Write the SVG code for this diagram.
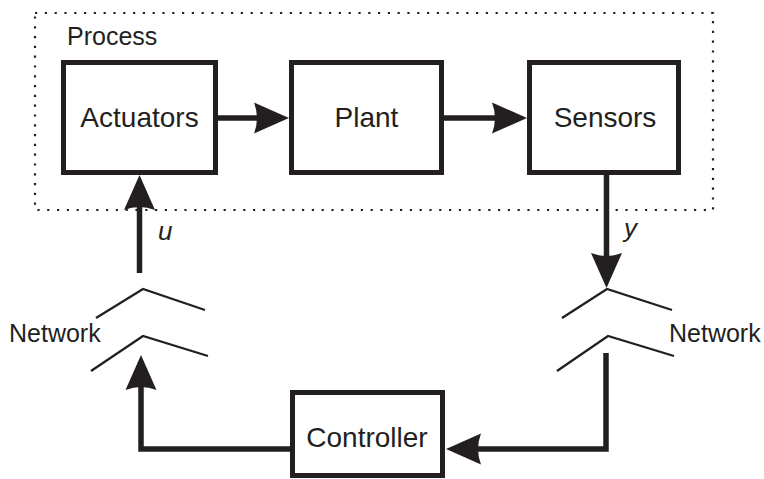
<svg xmlns="http://www.w3.org/2000/svg" width="764" height="479" viewBox="0 0 764 479">
<style>
.box{fill:#fff;stroke:#231f20;stroke-width:5}
.lbl{font-family:"Liberation Sans",Arial,Helvetica,sans-serif;font-size:28px;fill:#231f20;text-anchor:middle}
.sm{font-family:"Liberation Sans",Arial,Helvetica,sans-serif;font-size:25px;fill:#231f20}
.var{font-family:"Liberation Sans",Arial,Helvetica,sans-serif;font-size:26px;font-style:italic;fill:#231f20}
.conn{fill:none;stroke:#231f20;stroke-width:5.5;stroke-linejoin:miter;stroke-linecap:butt}
.net{fill:none;stroke:#231f20;stroke-width:2.3;stroke-linejoin:miter}
.dot{fill:none;stroke:#231f20;stroke-width:2.2;stroke-dasharray:2.2 7.6}
</style>
<defs>
<marker id="ah" markerUnits="userSpaceOnUse" markerWidth="40" markerHeight="40" refX="0" refY="0" orient="auto" overflow="visible">
<path d="M30,0 L-5,-15.5 Q1,0 -5,15.5 Z" fill="#231f20"/>
</marker>
</defs>
<g id="process">
<rect class="dot" x="35" y="13" width="678" height="197"/>
<text class="sm" x="67" y="45">Process</text>
</g>
<g id="actuators">
<rect class="box" x="63.5" y="62.5" width="152" height="110"/>
<text class="lbl" x="139.5" y="127">Actuators</text>
</g>
<g id="plant">
<rect class="box" x="291.5" y="62.5" width="150" height="110"/>
<text class="lbl" x="366.5" y="127">Plant</text>
</g>
<g id="sensors">
<rect class="box" x="529.5" y="62.5" width="149" height="110"/>
<text class="lbl" x="605" y="127">Sensors</text>
</g>
<g id="controller">
<rect class="box" x="292.5" y="392.5" width="150" height="83"/>
<text class="lbl" x="367" y="447">Controller</text>
</g>
<g id="network-left">
<polyline class="net" points="96,318 143,289 205,310"/>
<polyline class="net" points="91,371 143,336 208,356"/>
<text class="sm" x="9" y="342">Network</text>
</g>
<g id="network-right">
<polyline class="net" points="562,318 607,289 672,310"/>
<polyline class="net" points="557,371 608,336 674,356"/>
<text class="sm" x="669" y="342">Network</text>
</g>
<g id="connectors">
<path class="conn" d="M218,118 H259" marker-end="url(#ah)"/>
<path class="conn" d="M444,118 H497" marker-end="url(#ah)"/>
<path class="conn" d="M139.5,273 V205" marker-end="url(#ah)"/>
<path class="conn" d="M606.5,174 V258" marker-end="url(#ah)"/>
<path class="conn" d="M290,449 H141 V385" marker-end="url(#ah)"/>
<path class="conn" d="M606,353 V449 H476" marker-end="url(#ah)"/>
<text class="var" x="158" y="240">u</text>
<text class="var" x="624" y="237">y</text>
</g>
</svg>
